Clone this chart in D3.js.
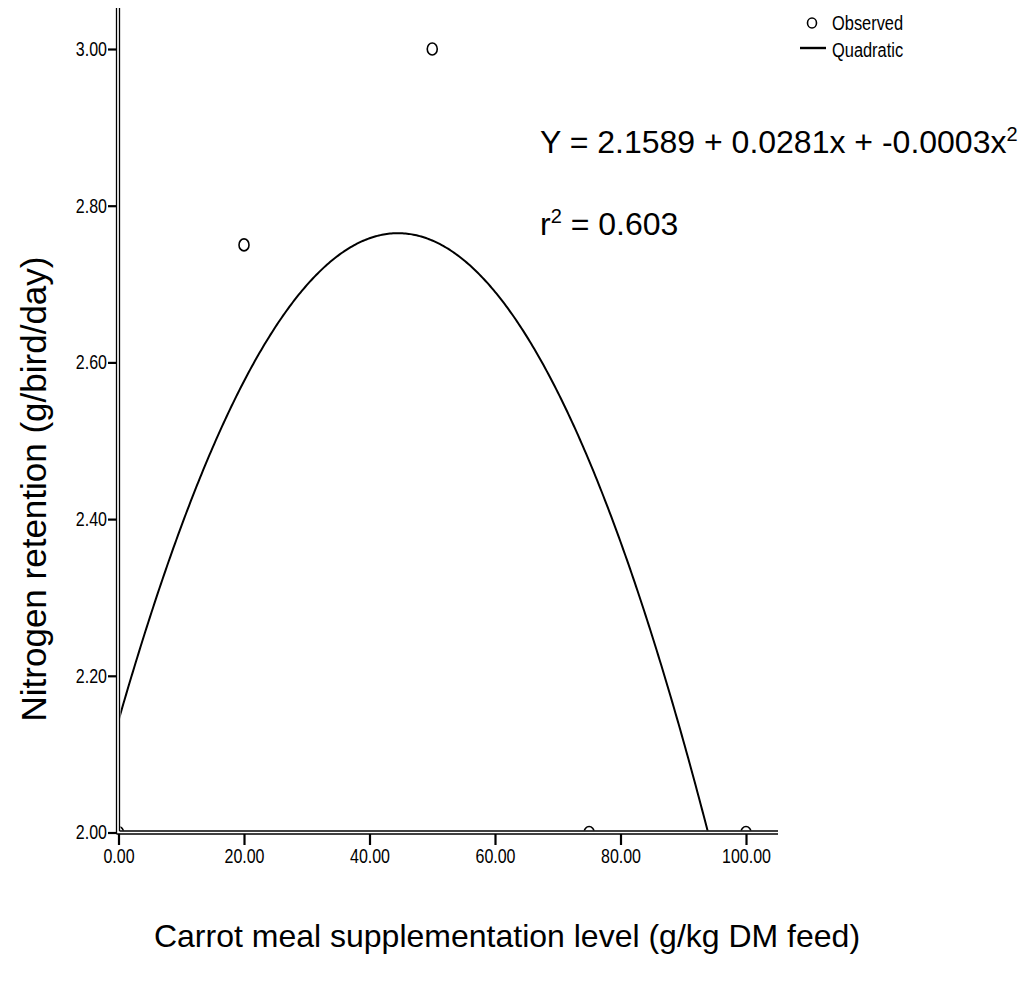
<!DOCTYPE html>
<html>
<head>
<meta charset="utf-8">
<script src="https://cdn.jsdelivr.net/npm/d3@7"></script>
<style>
  body { margin: 0; background: #fff; }
  svg { display: block; }
</style>
</head>
<body>
<script>
// Carrot meal supplementation level (g/kg DM feed) and observed nitrogen retention
const levels = [0, 20, 50, 75, 100];
const retention = [2.00, 2.75, 3.00, 2.00, 2.00];

// Axis ticks
const xTicks = [0, 20, 40, 60, 80, 100];
const yTicks = [2.00, 2.20, 2.40, 2.60, 2.80, 3.00];

// Fitted-model annotation
const eqParts = ["Y = 2.1589 + 0.0281x + -0.0003x", "2"];
const r2Parts = ["r", "2", " = 0.603"];
const legendLabels = ["Observed", "Quadratic"];

const W = 1026, H = 994;
const sans = "'Liberation Sans', Arial, Helvetica, sans-serif";

const svg = d3.select("body").append("svg")
  .attr("width", W).attr("height", H);

// Condensed look for small labels: squeeze glyphs horizontally
function condense(sel, k) {
  sel.each(function () {
    const w = this.getComputedTextLength();
    d3.select(this).attr("textLength", w * k).attr("lengthAdjust", "spacingAndGlyphs");
  });
}

const x = d3.scaleLinear().domain([0, 100]).range([118.5, 746]);
const y = d3.scaleLinear().domain([2, 3]).range([832.5, 49]);

// Least-squares quadratic fit y = a + b x + c x^2
function quadFit(xs, ys) {
  const n = xs.length;
  const s = [0, 0, 0, 0, 0], t = [0, 0, 0];
  for (let i = 0; i < n; i++) {
    let p = 1;
    for (let k = 0; k < 5; k++) { s[k] += p; p *= xs[i]; }
    t[0] += ys[i]; t[1] += ys[i] * xs[i]; t[2] += ys[i] * xs[i] * xs[i];
  }
  const M = [[s[0], s[1], s[2], t[0]], [s[1], s[2], s[3], t[1]], [s[2], s[3], s[4], t[2]]];
  for (let i = 0; i < 3; i++) {
    for (let j = i + 1; j < 3; j++) {
      const f = M[j][i] / M[i][i];
      for (let k = i; k < 4; k++) M[j][k] -= f * M[i][k];
    }
  }
  const r = [0, 0, 0];
  for (let i = 2; i >= 0; i--) {
    let v = M[i][3];
    for (let k = i + 1; k < 3; k++) v -= M[i][k] * r[k];
    r[i] = v / M[i][i];
  }
  return r;
}
const [a, b, c] = quadFit(levels, retention);

// Plot-area clip (marks are hidden behind the axis frame)
svg.append("clipPath").attr("id", "plot")
  .append("rect").attr("x", 120.5).attr("y", 0)
  .attr("width", 700).attr("height", 830.5);

const plot = svg.append("g").attr("clip-path", "url(#plot)");

// Quadratic curve
const curveX = d3.range(0, 100.01, 0.25);
plot.append("path")
  .datum(curveX.map(v => [v, a + b * v + c * v * v]).filter(d => d[1] >= 1.98))
  .attr("fill", "none").attr("stroke", "#000").attr("stroke-width", 2)
  .attr("d", d3.line().x(d => x(d[0])).y(d => y(d[1])));

// Observed points
plot.selectAll("ellipse.obs").data(levels.map((v, i) => [v, retention[i]]))
  .join("ellipse").attr("class", "obs")
  .attr("cx", d => x(d[0])).attr("cy", d => y(d[1]))
  .attr("rx", 5).attr("ry", 6)
  .attr("fill", "none").attr("stroke", "#000").attr("stroke-width", 1.6);

// Axis frame: double lines
const frame = svg.append("g").attr("stroke", "#000").attr("stroke-width", 1.3).attr("fill", "none");
frame.append("line").attr("x1", 116.5).attr("x2", 116.5).attr("y1", 8).attr("y2", 834);
frame.append("line").attr("x1", 119.5).attr("x2", 119.5).attr("y1", 8).attr("y2", 831);
frame.append("line").attr("x1", 116.5).attr("x2", 778).attr("y1", 834).attr("y2", 834);
frame.append("line").attr("x1", 119.5).attr("x2", 778).attr("y1", 831).attr("y2", 831);

// Y axis
const yAxis = svg.append("g").attr("transform", "translate(117,0)")
  .call(d3.axisLeft(y).tickValues(yTicks).tickFormat(d3.format(".2f")).tickSize(9).tickPadding(1));
yAxis.select(".domain").remove();
yAxis.selectAll(".tick line").attr("stroke-width", 2.2);
yAxis.selectAll(".tick text").attr("font-family", sans).attr("font-size", 20).attr("fill", "#000")
  .call(condense, 0.8);

// X axis
const xAxis = svg.append("g").attr("transform", "translate(0,834)")
  .call(d3.axisBottom(x).tickValues(xTicks).tickFormat(d3.format(".2f")).tickSize(11).tickPadding(4));
xAxis.select(".domain").remove();
xAxis.selectAll(".tick line").attr("stroke-width", 2.2);
xAxis.selectAll(".tick text").attr("font-family", sans).attr("font-size", 20).attr("fill", "#000")
  .call(condense, 0.8);

// Axis titles
svg.append("text")
  .attr("x", 507).attr("y", 947).attr("text-anchor", "middle")
  .attr("font-family", sans).attr("font-size", 32)
  .text("Carrot meal supplementation level (g/kg DM feed)");
svg.append("text")
  .attr("transform", "translate(46,489) rotate(-90)").attr("text-anchor", "middle")
  .attr("font-family", sans).attr("font-size", 35)
  .text("Nitrogen retention (g/bird/day)");

// Equation and r-squared
const eq = svg.append("text").attr("x", 540).attr("y", 153)
  .attr("font-family", sans).attr("font-size", 32);
eq.append("tspan").text(eqParts[0]);
eq.append("tspan").attr("dy", -12).attr("font-size", 20).text(eqParts[1]);

const r2 = svg.append("text").attr("x", 540).attr("y", 235)
  .attr("font-family", sans).attr("font-size", 32);
r2.append("tspan").text(r2Parts[0]);
r2.append("tspan").attr("dy", -12).attr("font-size", 20).text(r2Parts[1]);
r2.append("tspan").attr("dy", 12).text(r2Parts[2]);

// Legend
const lg = svg.append("g");
lg.append("ellipse").attr("cx", 812).attr("cy", 23).attr("rx", 4.5).attr("ry", 5)
  .attr("fill", "none").attr("stroke", "#000").attr("stroke-width", 1.6);
lg.append("text").attr("x", 832).attr("y", 30)
  .attr("font-family", sans).attr("font-size", 20).text(legendLabels[0])
  .call(condense, 0.82);
lg.append("line").attr("x1", 800).attr("x2", 826).attr("y1", 48).attr("y2", 48)
  .attr("stroke", "#000").attr("stroke-width", 2.4);
lg.append("text").attr("x", 832).attr("y", 57)
  .attr("font-family", sans).attr("font-size", 20).text(legendLabels[1])
  .call(condense, 0.82);
</script>
</body>
</html>
